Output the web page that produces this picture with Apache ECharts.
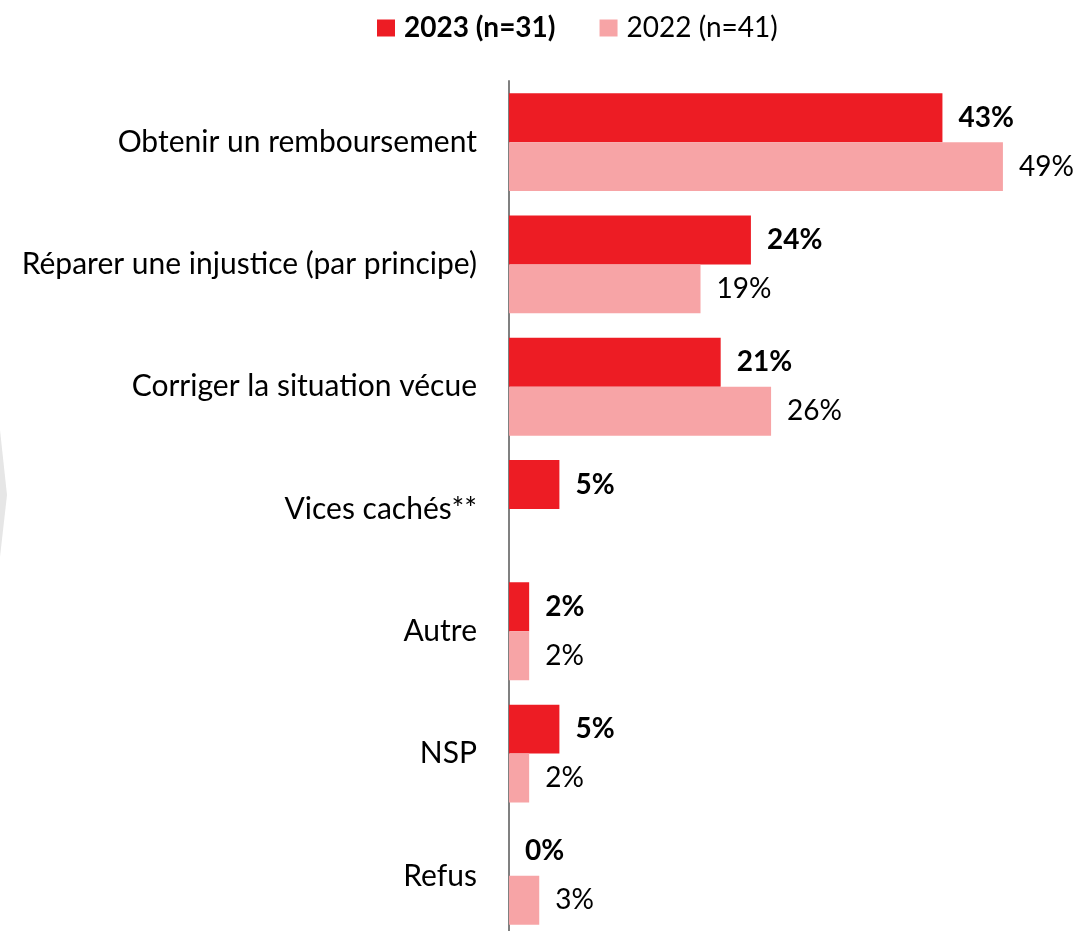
<!DOCTYPE html>
<html>
<head>
<meta charset="utf-8">
<style>
  html, body { margin: 0; padding: 0; background: #fff; }
  #chart { width: 1081px; height: 931px; }
</style>
<script src="https://cdn.jsdelivr.net/npm/echarts@6/dist/echarts.min.js"></script>
</head>
<body>
<div id="chart"></div>
<script>
  var categories = [
    'Obtenir un remboursement',
    'Réparer une injustice (par principe)',
    'Corriger la situation vécue',
    'Vices cachés**',
    'Autre',
    'NSP',
    'Refus'
  ];
  var values2023 = [43, 24, 21, 5, 2, 5, 0];
  var values2022 = [49, 19, 26, null, 2, 2, 3];
  var name2023 = '2023 (n=31)';
  var name2022 = '2022 (n=41)';

  var fontName = 'Lato, "Open Sans", sans-serif';
  var chart = echarts.init(document.getElementById('chart'));

  var option = {
    animation: false,
    legend: {
      data: [name2023, name2022],
      left: 372,
      top: 9,
      itemWidth: 18,
      itemHeight: 17,
      itemGap: 44,
      icon: 'rect',
      formatter: function (name) {
        return name == name2023 ? '{b|' + name + '}' : '{n|' + name + '}';
      },
      textStyle: {
        color: '#000',
        fontSize: 28,
        fontFamily: fontName,
        rich: {
          b: { fontWeight: 'bold', fontSize: 28, fontFamily: fontName, color: '#000', padding: [0, 0, 0, 4] },
          n: { fontWeight: 'normal', fontSize: 28, fontFamily: fontName, color: '#000', padding: [0, 0, 0, 4] }
        }
      }
    },
    grid: {
      left: 509,
      top: 81,
      width: 504,
      height: 856,
      outerBoundsMode: 'none'
    },
    xAxis: {
      type: 'value',
      min: 0,
      max: 50,
      show: false
    },
    yAxis: {
      type: 'category',
      data: categories,
      inverse: true,
      axisTick: { show: false },
      axisLine: { show: true, lineStyle: { color: '#808080', width: 2 } },
      axisLabel: {
        margin: 32,
        color: '#000',
        fontSize: 30,
        fontFamily: fontName
      }
    },
    series: [
      {
        name: name2023,
        type: 'bar',
        data: values2023,
        barGap: '0%',
        barCategoryGap: '20%',
        itemStyle: { color: '#ED1C24' },
        label: {
          show: true,
          position: 'right',
          distance: 16,
          formatter: '{c}%',
          color: '#000',
          fontSize: 28,
          fontWeight: 'bold',
          fontFamily: fontName
        }
      },
      {
        name: name2022,
        type: 'bar',
        data: values2022,
        barGap: '0%',
        barCategoryGap: '20%',
        itemStyle: { color: '#F7A4A6' },
        label: {
          show: true,
          position: 'right',
          distance: 16,
          formatter: '{c}%',
          color: '#000',
          fontSize: 28,
          fontFamily: fontName
        }
      }
    ],
    graphic: [{
      type: 'polygon',
      silent: true,
      shape: { points: [[0, 430], [7, 495], [0, 557]] },
      style: { fill: '#E6E6E6' }
    }]
  };

  chart.setOption(option);
</script>
</body>
</html>
